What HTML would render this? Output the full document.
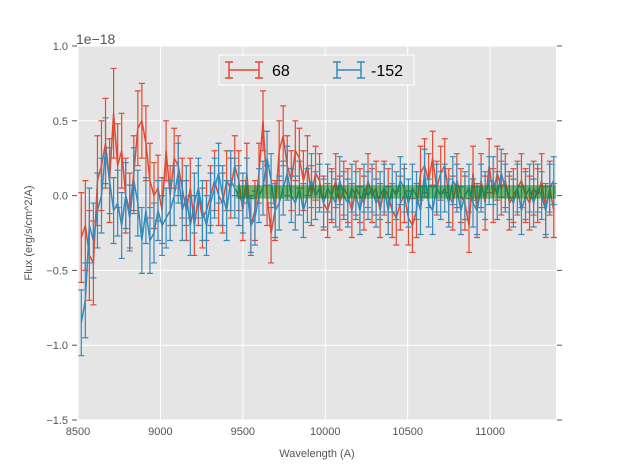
<!DOCTYPE html>
<html><head><meta charset="utf-8"><style>
body{margin:0;background:#fff;}
svg{display:block;font-family:"Liberation Sans",sans-serif;}
</style></head><body>
<svg id="chart" width="617" height="467" viewBox="0 0 617 467"></svg>
<script>
const redValues=[-0.28,-0.2,-0.4,-0.45,0.1,0.2,0.35,0.1,0.55,0.2,0.3,0.0,-0.1,0.15,0.45,0.5,0.35,0.1,0.0,0.05,-0.1,0.3,
0.0,0.25,0.2,0.05,-0.1,0.05,-0.2,0.0,-0.15,-0.1,0.0,0.1,0.0,-0.05,0.1,0.05,0.2,0.1,-0.1,0.15,
-0.2,-0.1,0.15,0.5,0.0,-0.25,-0.1,0.3,0.4,0.2,0.1,0.3,0.25,0.1,0.2,0.0,0.15,0.1,-0.05,-0.1,
0.0,0.1,-0.05,0.05,0.0,-0.1,0.05,0.0,-0.05,0.1,0.0,0.05,-0.1,0.05,0.0,-0.1,-0.15,-0.05,0.0,-0.15,
-0.2,-0.1,0.15,0.2,0.1,0.25,0.05,0.15,0.2,0.0,-0.05,0.1,0.0,-0.05,-0.2,0.15,-0.1,0.1,-0.05,0.2,
0.0,0.15,0.05,0.1,-0.05,0.0,0.05,0.1,0.0,-0.05,0.05,0.0,0.1,-0.1,0.05,-0.1];
const blueValues=[-0.85,-0.7,-0.2,-0.3,-0.1,0.0,0.3,0.1,-0.1,-0.05,-0.2,0.0,-0.15,0.1,-0.05,-0.3,-0.1,-0.3,-0.25,-0.1,-0.2,-0.15,
-0.1,0.0,0.15,-0.1,0.0,-0.2,-0.05,0.05,-0.1,-0.2,-0.05,0.05,0.15,0.0,-0.1,0.1,0.05,0.0,-0.05,0.05,
-0.2,-0.15,0.0,0.05,0.25,0.1,-0.1,-0.05,0.05,0.15,0.0,-0.05,0.05,-0.1,0.0,0.1,0.0,0.05,-0.05,0.05,
0.0,-0.05,0.1,0.0,-0.05,0.05,0.0,-0.1,0.05,0.0,0.05,-0.05,0.0,0.05,-0.1,0.05,0.0,0.1,0.05,-0.05,
0.05,0.0,-0.1,0.15,-0.05,-0.1,0.05,0.0,0.05,-0.05,0.1,0.05,-0.1,0.0,0.05,-0.05,-0.1,0.05,0.0,0.1,
0.1,0.0,0.15,0.05,0.0,-0.05,0.05,-0.1,0.0,0.05,-0.05,0.05,0.0,-0.1,0.05,0.1];
const redErr=[0.3,0.3,0.3,0.28,0.3,0.3,0.3,0.28,0.3,0.28,0.25,0.25,0.25,0.25,0.25,0.25,0.25,0.25,0.22,0.22,0.22,0.2,
0.2,0.2,0.2,0.2,0.2,0.2,0.2,0.2,0.2,0.2,0.2,0.2,0.2,0.2,0.2,0.2,0.2,0.2,0.2,0.2,
0.2,0.2,0.2,0.2,0.2,0.2,0.2,0.2,0.2,0.2,0.2,0.2,0.2,0.2,0.2,0.2,0.18,0.18,0.18,0.18,
0.18,0.18,0.18,0.18,0.18,0.18,0.18,0.18,0.18,0.18,0.18,0.18,0.18,0.18,0.18,0.18,0.18,0.18,0.18,0.18,
0.18,0.18,0.18,0.18,0.18,0.18,0.18,0.18,0.18,0.18,0.18,0.18,0.18,0.18,0.18,0.18,0.18,0.18,0.18,0.18,
0.18,0.18,0.18,0.18,0.18,0.18,0.18,0.18,0.18,0.18,0.18,0.18,0.18,0.18,0.18,0.18];
const blueErr=[0.22,0.25,0.25,0.25,0.25,0.25,0.22,0.22,0.22,0.22,0.22,0.22,0.22,0.22,0.22,0.22,0.22,0.22,0.2,0.2,0.2,0.2,
0.2,0.2,0.2,0.2,0.2,0.2,0.2,0.2,0.2,0.2,0.2,0.2,0.2,0.2,0.2,0.2,0.2,0.2,0.2,0.2,
0.18,0.18,0.18,0.18,0.18,0.18,0.18,0.18,0.18,0.18,0.18,0.18,0.18,0.18,0.18,0.18,0.16,0.16,0.16,0.16,
0.16,0.16,0.16,0.16,0.16,0.16,0.16,0.16,0.16,0.16,0.16,0.16,0.16,0.16,0.16,0.16,0.16,0.16,0.16,0.16,
0.16,0.16,0.16,0.16,0.16,0.16,0.16,0.16,0.16,0.16,0.16,0.16,0.16,0.16,0.16,0.16,0.16,0.16,0.16,0.16,
0.16,0.16,0.16,0.16,0.16,0.16,0.16,0.16,0.16,0.16,0.16,0.16,0.16,0.16,0.16,0.16];
const wavelengthStart=8520, wavelengthStep=24.5;
const xTicks=[8500,9000,9500,10000,10500,11000];
const yTicks=[-1.5,-1.0,-0.5,0.0,0.5,1.0];
const yTickLabels=["\u22121.5","\u22121.0","\u22120.5","0.0","0.5","1.0"];
const bandRange=[9460,11400,-0.02,0.07];

const svg=document.getElementById('chart');
const NS='http://www.w3.org/2000/svg';
const L=78,R=556,T=46,B=420;
const xs=v=>L+(v-8500)/(11400-8500)*(R-L);
const ys=v=>B-(v+1.5)/2.5*(B-T);
function mk(tag,attrs,parent){const e=document.createElementNS(NS,tag);for(const k in attrs)e.setAttribute(k,attrs[k]);(parent||svg).appendChild(e);return e;}

const bg=mk('rect',{x:L,y:T,width:R-L,height:B-T,fill:'#E5E5E5'});


const grid=mk('g',{stroke:'#fff','stroke-width':1});


xTicks.forEach(t=>mk('line',{x1:xs(t),x2:xs(t),y1:T,y2:B},grid));
yTicks.forEach(t=>mk('line',{x1:L,x2:R,y1:ys(t),y2:ys(t)},grid));

function series(vals,errs,color,name){
  const g=mk('g',{stroke:color,fill:'none'});
  
  
  let d='';
  vals.forEach((v,i)=>{
    const x=xs(wavelengthStart+i*wavelengthStep);
    const y1=ys(v-errs[i]),y2=ys(v+errs[i]);
    d+=`M${x},${y1}V${y2}M${x-3},${y1}H${x+3}M${x-3},${y2}H${x+3}`;
  });
  mk('path',{d:d,'stroke-width':1.2},g);
  const pts=vals.map((v,i)=>xs(wavelengthStart+i*wavelengthStep)+','+ys(v)).join(' ');
  mk('polyline',{points:pts,'stroke-width':1.5},g);
}
series(redValues,redErr,'#E24A33','series-68');
series(blueValues,blueErr,'#348ABD','series-minus-152');

const band=mk('rect',{x:xs(bandRange[0]),y:ys(bandRange[3]),width:xs(bandRange[1])-xs(bandRange[0]),height:ys(bandRange[2])-ys(bandRange[3]),fill:'#008000','fill-opacity':0.5});



const ax=mk('g',{fill:'#555','font-size':11});


xTicks.forEach(t=>{const e=mk('text',{x:xs(t),y:B+15,'text-anchor':'middle'},ax);e.textContent=t;});
yTicks.forEach((t,i)=>{
  const e=mk('text',{x:L-10,y:ys(t)+4,'text-anchor':'end'},ax);e.textContent=yTickLabels[i];
  mk('line',{x1:L-6,x2:L-1,y1:ys(t),y2:ys(t),stroke:'#555'},ax);
  mk('line',{x1:R+1,x2:R+6,y1:ys(t),y2:ys(t),stroke:'#555'},ax);
});
</script>
<svg style="position:absolute;left:0;top:0" width="617" height="467" font-family="Liberation Sans, sans-serif">
<text x="76" y="44" font-size="14" fill="#555">1e−18</text>
<text x="317" y="457" font-size="11" fill="#555" text-anchor="middle">Wavelength (A)</text>
<text transform="translate(32,233) rotate(-90)" font-size="11" fill="#555" text-anchor="middle">Flux (erg/s/cm^2/A)</text>
<g>
<rect x="219" y="55" width="195" height="30" fill="#E5E5E5" stroke="#fff"/>
<g stroke="#E24A33" stroke-width="1.5">
<line x1="229" y1="70" x2="259" y2="70"/><line x1="229" y1="62" x2="229" y2="78"/><line x1="259" y1="62" x2="259" y2="78"/><line x1="225" y1="62" x2="233" y2="62"/><line x1="225" y1="78" x2="233" y2="78"/><line x1="255" y1="62" x2="263" y2="62"/><line x1="255" y1="78" x2="263" y2="78"/>
</g>
<text x="272" y="76" font-size="16" fill="#000">68</text>
<g stroke="#348ABD" stroke-width="1.5">
<line x1="337" y1="70" x2="361" y2="70"/><line x1="337" y1="62" x2="337" y2="78"/><line x1="361" y1="62" x2="361" y2="78"/><line x1="333" y1="62" x2="341" y2="62"/><line x1="333" y1="78" x2="341" y2="78"/><line x1="357" y1="62" x2="365" y2="62"/><line x1="357" y1="78" x2="365" y2="78"/>
</g>
<text x="371" y="76" font-size="16" fill="#000">-152</text>
</g>
</svg>
</body></html>
